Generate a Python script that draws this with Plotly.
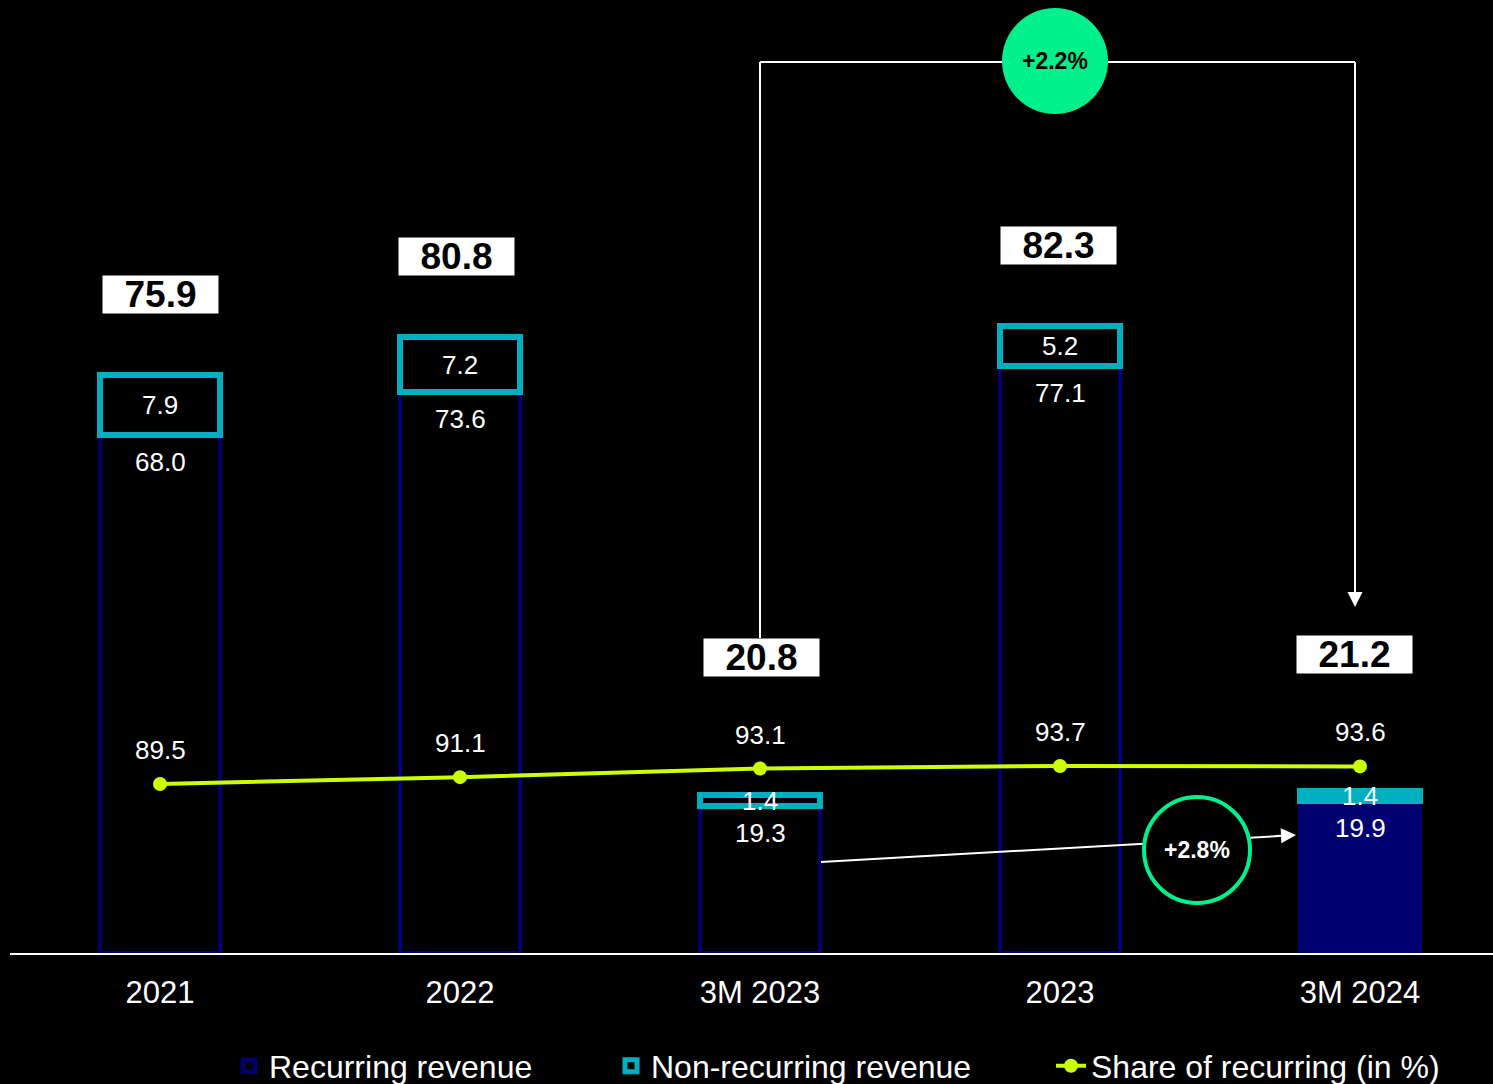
import plotly.graph_objects as go

# ---------------- data ----------------
categories = ["2021", "2022", "3M 2023", "2023", "3M 2024"]
recurring = [68.0, 73.6, 19.3, 77.1, 19.9]
non_recurring = [7.9, 7.2, 1.4, 5.2, 1.4]
totals = [75.9, 80.8, 20.8, 82.3, 21.2]
share_recurring = [89.5, 91.1, 93.1, 93.7, 93.6]
total_growth_label = "+2.2%"
recurring_growth_label = "+2.8%"

# ---------------- geometry / style ----------------
W, H = 1493, 1084
M_L, M_R, M_T, M_B = 10, 0, 0, 131
PLOT_W = W - M_L - M_R
PLOT_H = H - M_T - M_B
CAT_PX = 300.0
PX_PER_UNIT = 7.62
SHARE_PX_PER_UNIT = 4.3
SHARE_MIN = 50.2
BAR_W = 0.4

NAVY = "#000070"
TEAL = "#00AFC0"
LIME = "#CCFF00"
GREEN = "#00F08C"
FONT = "Liberation Sans, Arial, sans-serif"

n = len(categories)
idx = list(range(n))
filled = [False] * (n - 1) + [True]


def py(px):
    """pixel row -> y data value (for decorations only)"""
    return (M_T + PLOT_H - px) / PX_PER_UNIT


def pxx(px):
    return (px - M_L) / CAT_PX - 0.5


fig = go.Figure()
fig.add_trace(go.Bar(
    x=categories, y=recurring, name="Recurring revenue", width=BAR_W,
    marker=dict(color=[NAVY if f else "rgba(0,0,0,0)" for f in filled],
                line=dict(color=NAVY, width=4.5)),
    legend="legend", showlegend=True, hoverinfo="skip",
))
fig.add_trace(go.Bar(
    x=categories, y=non_recurring, name="Non-recurring revenue", width=BAR_W,
    marker=dict(color=[TEAL if f else "rgba(0,0,0,0)" for f in filled],
                line=dict(color=TEAL, width=6)),
    legend="legend2", showlegend=True, hoverinfo="skip",
))
fig.add_trace(go.Scatter(
    x=categories, y=share_recurring, name="Share of recurring (in %)",
    mode="lines+markers", yaxis="y2",
    line=dict(color=LIME, width=4), marker=dict(size=14, color=LIME),
    legend="legend3", showlegend=True, hoverinfo="skip",
))

annotations = []
total_shift = [80, 81, 138, 80, 136]
total_xshift = [0, -4, 1, -2, -6]
for i in idx:
    annotations.append(dict(
        x=i, y=recurring[i], xref="x", yref="y", text=f"{recurring[i]:.1f}",
        showarrow=False, yshift=-27, font=dict(size=26, color="white", family=FONT)))
    annotations.append(dict(
        x=i, y=recurring[i] + non_recurring[i] / 2, xref="x", yref="y",
        text=f"{non_recurring[i]:.1f}", showarrow=False,
        font=dict(size=26, color="white", family=FONT)))
    annotations.append(dict(
        x=i, y=recurring[i] + non_recurring[i], xref="x", yref="y",
        text=f"<b>{totals[i]:.1f}</b>", showarrow=False, yshift=total_shift[i],
        xshift=total_xshift[i],
        bgcolor="white", width=113, height=35, borderpad=1,
        font=dict(size=37, color="black", family=FONT)))
    annotations.append(dict(
        x=i, y=share_recurring[i], xref="x", yref="y2", text=f"{share_recurring[i]:.1f}",
        showarrow=False, yshift=34, font=dict(size=26, color="white", family=FONT)))

# bracket between 3M 2023 and 3M 2024 totals
bracket_top = py(62)
left_start = py(638)
right_x = pxx(1355)
tip_y = py(607)
shapes = [
    dict(type="line", xref="x", yref="y", x0=2, x1=2, y0=left_start, y1=bracket_top,
         line=dict(color="white", width=2)),
    dict(type="line", xref="x", yref="y", x0=2, x1=right_x, y0=bracket_top, y1=bracket_top,
         line=dict(color="white", width=2)),
    dict(type="line", xref="x", yref="y", x0=right_x, x1=right_x, y0=bracket_top, y1=tip_y + 1.5,
         line=dict(color="white", width=2)),
    dict(type="circle", xref="x", yref="y", xsizemode="pixel", ysizemode="pixel",
         xanchor=pxx(1055), yanchor=py(61), x0=-53, x1=53, y0=-53, y1=53,
         fillcolor=GREEN, line=dict(width=0)),
    # recurring growth arrow
    dict(type="line", xref="x", yref="y", x0=pxx(821), y0=py(862), x1=pxx(1280), y1=py(836),
         line=dict(color="white", width=2)),
    dict(type="circle", xref="x", yref="y", xsizemode="pixel", ysizemode="pixel",
         xanchor=pxx(1197), yanchor=py(850), x0=-53, x1=53, y0=-53, y1=53,
         fillcolor="black", line=dict(color=GREEN, width=4)),
]
annotations += [
    dict(x=right_x, y=tip_y, xref="x", yref="y", text="", showarrow=True,
         ax=0, ay=-22, arrowhead=2, arrowsize=1.5, arrowwidth=2, arrowcolor="white"),
    dict(x=pxx(1296), y=py(835), xref="x", yref="y", text="", showarrow=True,
         ax=-22, ay=1, arrowhead=2, arrowsize=1.5, arrowwidth=2, arrowcolor="white"),
    dict(x=pxx(1055), y=py(61), xref="x", yref="y", text=f"<b>{total_growth_label}</b>",
         showarrow=False, font=dict(size=23, color="black", family=FONT)),
    dict(x=pxx(1197), y=py(850), xref="x", yref="y", text=f"<b>{recurring_growth_label}</b>",
         showarrow=False, font=dict(size=23, color="white", family=FONT)),
]

legend_y = (PLOT_H - (1066 - M_T)) / PLOT_H


def legend_at(text_start_px):
    return dict(x=(text_start_px - 41 - M_L) / PLOT_W, y=legend_y, xanchor="left",
                yanchor="middle", orientation="h", bgcolor="rgba(0,0,0,0)",
                font=dict(size=32, color="white", family=FONT), visible=True)


fig.update_layout(
    width=W, height=H, template="none",
    barmode="stack",
    showlegend=True,
    paper_bgcolor="black", plot_bgcolor="black",
    font=dict(family=FONT, color="white"),
    margin=dict(l=M_L, r=M_R, t=M_T, b=M_B, autoexpand=False),
    xaxis=dict(type="category", categoryorder="array", categoryarray=categories,
               range=[-0.5, -0.5 + PLOT_W / CAT_PX], showline=True, linecolor="white",
               linewidth=2, showgrid=False, zeroline=False, ticks="",
               ticklabelstandoff=11, tickfont=dict(size=31, color="white", family=FONT)),
    yaxis=dict(range=[0, PLOT_H / PX_PER_UNIT], visible=False),
    yaxis2=dict(range=[SHARE_MIN, SHARE_MIN + PLOT_H / SHARE_PX_PER_UNIT], overlaying="y",
                visible=False),
    legend=legend_at(270),
    legend2=legend_at(652),
    legend3=legend_at(1092),
    shapes=shapes,
    annotations=annotations,
)

fig.write_html("out.html")
